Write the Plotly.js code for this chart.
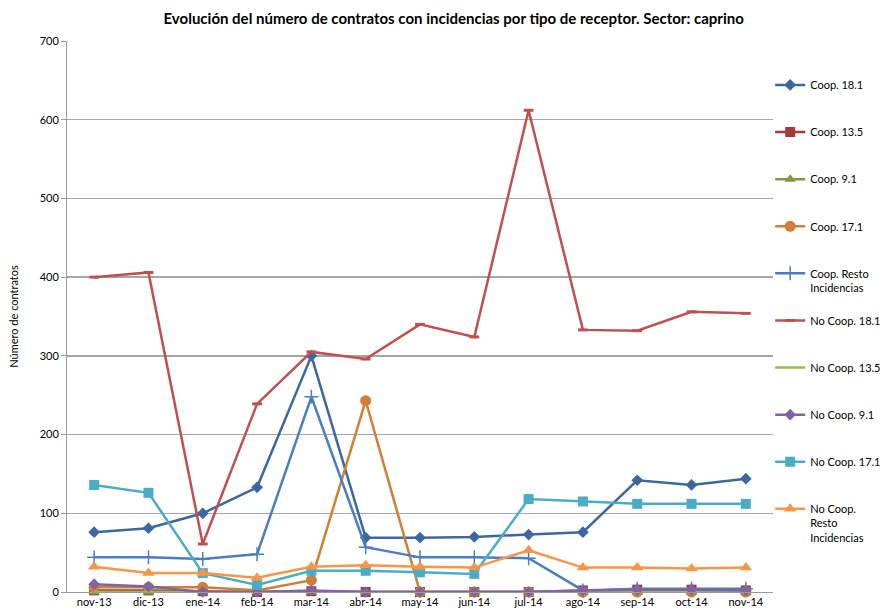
<!DOCTYPE html>
<html><head><meta charset="utf-8">
<script src="https://cdn.plot.ly/plotly-3.0.1.min.js"></script>
<style>body{margin:0;background:#fff}#chart{width:893px;height:614px}</style>
</head><body><div id="chart"></div>
<script>
const months = ["nov-13","dic-13","ene-14","feb-14","mar-14","abr-14","may-14","jun-14","jul-14","ago-14","sep-14","oct-14","nov-14"];
const coop181 = [76,81,100,133,300,69,69,70,73,76,142,136,144];
const coop135 = [2,2,1,0,1,0,0,0,0,2,3,3,2];
const coop91 = [0,0,0,0,0,0,0,0,0,0,0,0,0];
const coop171 = [6,6,6,2,15,243,0,0,0,0,0,0,0];
const coopResto = [44,44,42,48,248,57,44,44,43,2,4,4,4];
const noCoop181 = [400,406,61,239,305,296,340,324,612,333,332,356,354];
const noCoop135 = [0,0,0,0,0,0,0,0,0,0,0,0,0];
const noCoop91 = [10,7,0,0,2,0,0,0,0,2,3,3,2];
const noCoop171 = [136,126,24,9,27,27,25,23,118,115,112,112,112];
const noCoopResto = [32,24,24,18,32,34,32,31,53,31,31,30,31];

const names = ["Coop. 18.1","Coop. 13.5","Coop. 9.1","Coop. 17.1","Coop. Resto<br>Incidencias","No Coop. 18.1","No Coop. 13.5","No Coop. 9.1","No Coop. 17.1","No Coop.<br>Resto<br>Incidencias"];
const series = [coop181,coop135,coop91,coop171,coopResto,noCoop181,noCoop135,noCoop91,noCoop171,noCoopResto];
const colors = ["#3D679F","#A33B36","#7D9A3E","#D07F34","#4A7EC0","#C0504D","#9BBB59","#8064A2","#4BACC6","#F79646"];
const symbols = ["diamond","square","triangle-up","circle","cross-thin-open","line-ew-open",null,"diamond","square","triangle-up"];
const sizes = [9,10,10,11,10,7,0,9,10,11];

const traces = series.map((y,i)=>{
  const t = {
    x: months, y: y, type: 'scatter',
    name: (names[i].indexOf('<br>')<0 ? names[i]+'<br> ' : names[i]),
    mode: symbols[i] ? 'lines+markers' : 'lines',
    line: {color: colors[i], width: 2.5},
    cliponaxis: false,
    legendgroup: 'g'+i
  };
  if (symbols[i]) {
    t.marker = {symbol: symbols[i], size: sizes[i], color: colors[i]};
    if (symbols[i].indexOf('open')>=0) t.marker.line = {color: colors[i], width: i===5 ? 3 : 1.5};
  }
  return t;
});

const layout = {
  width: 893, height: 614,
  margin: {l: 67, r: 120, t: 41, b: 22, autoexpand: false},
  paper_bgcolor: '#fff', plot_bgcolor: '#fff',
  font: {family: 'Lato, "Open Sans", sans-serif', size: 11, color: '#000'},
  title: {text: '<b>Evolución del número de contratos con incidencias por tipo de receptor. Sector: caprino</b>',
    font: {size: 15, family: 'Lato, sans-serif', color: '#000'}, x: 0.508, xanchor: 'center', y: 0.97, yanchor: 'middle'},
  xaxis: {type: 'category', range: [-0.5, 12.5], showgrid: false, showline: true, linecolor: '#9a9a9a', linewidth: 1,
    ticks: '', tickfont: {size: 11}, fixedrange: true, zeroline: false},
  yaxis: {range: [0, 700], dtick: 100, showgrid: true, gridcolor: '#a6a6a6', gridwidth: 1.3, showline: true,
    linecolor: '#9a9a9a', ticks: 'outside', ticklen: 5, tickcolor: '#9a9a9a', zeroline: false,
    title: {text: 'Número de contratos', font: {size: 11}, standoff: 18}, tickfont: {size: 11}},
  showlegend: true,
  legend: {x: 0.996, xanchor: 'left', y: 0.945, yanchor: 'top', tracegroupgap: 15.5, valign: 'top',
    font: {size: 11}, itemwidth: 30, bgcolor: 'rgba(0,0,0,0)'}
};
Plotly.newPlot('chart', traces, layout, {displayModeBar: false, staticPlot: true});
</script></body></html>
